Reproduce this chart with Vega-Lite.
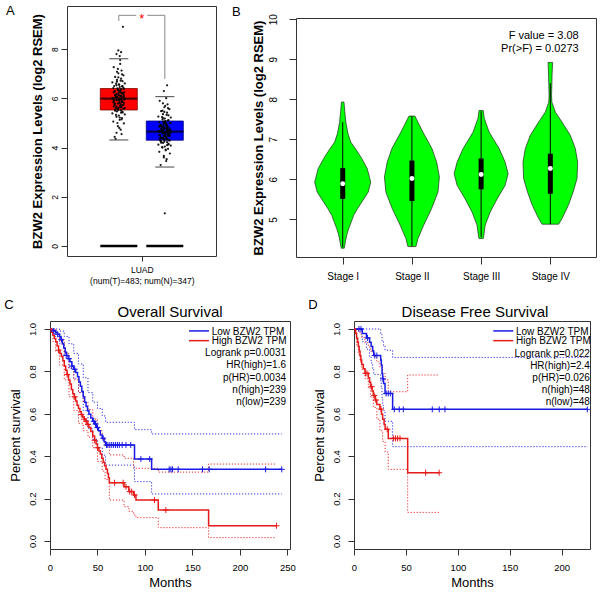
{
"$schema": "https://vega.github.io/schema/vega-lite/v6.json",
"padding": {"left": 2, "top": 4, "right": 0, "bottom": 0},
"background": "white",
"config": {
  "font": "Liberation Sans",
  "view": {"stroke": null},
  "axis": {"domain": false, "grid": false, "tickColor": "#333", "tickWidth": 1, "labelColor": "#000", "titleColor": "#000", "labelFlush": false, "labelOverlap": false, "labelBound": false, "titleFontWeight": "normal"}
},
"datasets": {
  "aBox": [
    {"g": "T", "x": 1, "q1": 5.53, "med": 5.99, "q3": 6.40},
    {"g": "N", "x": 2, "q1": 4.30, "med": 4.65, "q3": 5.08}
  ],
  "aCap": [
    {"x": 1, "v": 4.31}, {"x": 1, "v": 7.61}, {"x": 2, "v": 3.21}, {"x": 2, "v": 6.07}
  ],
  "aBr": [
    {"seg": "a", "o": 1, "x": 1, "v": 9.15}, {"seg": "a", "o": 2, "x": 1, "v": 9.378}, {"seg": "a", "o": 3, "x": 1.38, "v": 9.378},
    {"seg": "b", "o": 1, "x": 1.62, "v": 9.378}, {"seg": "b", "o": 2, "x": 2, "v": 9.378}, {"seg": "b", "o": 3, "x": 2, "v": 6.79}
  ],
  "aStar": [{"x": 1.5, "v": 9.08, "label": "*"}],
  "aLetter": [{"x": -1.452, "v": 9.541, "label": "A"}],
  "aPts": [
    {"x":0.91,"v":4.44},{"x":1.04,"v":4.73},{"x":0.98,"v":4.87},{"x":1.11,"v":4.98},{"x":0.88,"v":5.06},{"x":1.02,"v":5.13},{"x":1.07,"v":5.20},{"x":0.95,"v":5.25},{"x":1.00,"v":5.30},{"x":1.13,"v":5.35},
    {"x":0.86,"v":5.39},{"x":1.08,"v":5.43},{"x":0.96,"v":5.47},{"x":1.05,"v":5.51},{"x":0.92,"v":5.54},{"x":1.10,"v":5.58},{"x":0.99,"v":5.61},{"x":1.06,"v":5.64},{"x":0.89,"v":5.67},{"x":1.03,"v":5.70},
    {"x":0.91,"v":5.73},{"x":1.04,"v":5.76},{"x":0.98,"v":5.79},{"x":1.11,"v":5.82},{"x":0.88,"v":5.85},{"x":1.02,"v":5.88},{"x":1.07,"v":5.90},{"x":0.95,"v":5.93},{"x":1.00,"v":5.96},{"x":1.13,"v":5.99},
    {"x":0.86,"v":6.01},{"x":1.08,"v":6.04},{"x":0.96,"v":6.07},{"x":1.05,"v":6.10},{"x":0.92,"v":6.12},{"x":1.10,"v":6.15},{"x":0.99,"v":6.18},{"x":1.06,"v":6.21},{"x":0.89,"v":6.24},{"x":1.03,"v":6.27},
    {"x":0.91,"v":6.30},{"x":1.04,"v":6.33},{"x":0.98,"v":6.36},{"x":1.11,"v":6.39},{"x":0.88,"v":6.42},{"x":1.02,"v":6.46},{"x":1.07,"v":6.49},{"x":0.95,"v":6.53},{"x":1.00,"v":6.57},{"x":1.13,"v":6.61},
    {"x":0.86,"v":6.65},{"x":1.08,"v":6.70},{"x":0.96,"v":6.75},{"x":1.05,"v":6.80},{"x":0.92,"v":6.87},{"x":1.10,"v":6.94},{"x":0.99,"v":7.02},{"x":1.06,"v":7.13},{"x":0.89,"v":7.27},{"x":1.03,"v":7.56},
    {"x":0.94,"v":5.62},{"x":1.07,"v":5.72},{"x":1.01,"v":5.81},{"x":0.90,"v":5.90},{"x":1.12,"v":5.95},{"x":0.97,"v":6.03},{"x":1.04,"v":6.08},{"x":0.93,"v":6.14},{"x":1.09,"v":6.20},{"x":1.00,"v":6.26},
    {"x":0.95,"v":5.68},{"x":1.06,"v":5.84},{"x":0.88,"v":6.00},{"x":1.03,"v":6.11},{"x":0.98,"v":6.35},{"x":1.10,"v":6.44},{"x":0.92,"v":5.50},{"x":1.01,"v":6.55},{"x":0.96,"v":6.68},{"x":1.05,"v":5.42},
    {"x":1.02,"v":7.72},{"x":0.95,"v":7.80},{"x":1.05,"v":7.88},{"x":0.99,"v":7.95},{"x":0.93,"v":4.35},{"x":1.06,"v":4.55},{"x":1.09,"v":8.91},
    {"x":0.97,"v":5.57},{"x":1.03,"v":5.63},{"x":0.90,"v":5.77},{"x":1.08,"v":5.86},{"x":0.99,"v":5.92},{"x":1.05,"v":5.97},{"x":0.93,"v":6.05},{"x":1.11,"v":6.09},{"x":1.00,"v":6.13},{"x":0.95,"v":6.17},
    {"x":1.06,"v":6.23},{"x":0.91,"v":6.29},{"x":1.02,"v":6.32},{"x":0.97,"v":6.41},{"x":1.08,"v":6.50},{"x":0.94,"v":6.60},{"x":1.04,"v":6.72},{"x":0.99,"v":6.85},{"x":1.07,"v":6.98},{"x":0.96,"v":7.08},
    {"x":1.02,"v":5.22},{"x":0.94,"v":5.33},{"x":1.08,"v":5.45},{"x":0.99,"v":5.52},{"x":1.04,"v":5.66},{"x":0.92,"v":5.80},{"x":1.10,"v":5.74},{"x":1.01,"v":5.99},{"x":0.96,"v":6.06},{"x":1.05,"v":6.38},
    {"x":0.98,"v":7.20},{"x":1.03,"v":7.40},{"x":0.95,"v":4.60},{"x":1.01,"v":4.80},{"x":0.97,"v":5.00},{"x":1.06,"v":5.15},{"x":0.90,"v":6.50},{"x":1.12,"v":6.25},{"x":0.88,"v":5.95},{"x":1.13,"v":5.60},
    {"x":1.91,"v":3.29},{"x":2.04,"v":3.53},{"x":1.98,"v":3.66},{"x":2.11,"v":3.76},{"x":1.88,"v":3.83},{"x":2.02,"v":3.89},{"x":2.07,"v":3.95},{"x":1.95,"v":4.00},{"x":2.00,"v":4.04},{"x":2.13,"v":4.08},
    {"x":1.86,"v":4.12},{"x":2.08,"v":4.15},{"x":1.96,"v":4.19},{"x":2.05,"v":4.22},{"x":1.92,"v":4.25},{"x":2.10,"v":4.28},{"x":1.99,"v":4.31},{"x":2.06,"v":4.34},{"x":1.89,"v":4.36},{"x":2.03,"v":4.39},
    {"x":1.91,"v":4.42},{"x":2.04,"v":4.44},{"x":1.98,"v":4.47},{"x":2.11,"v":4.49},{"x":1.88,"v":4.52},{"x":2.02,"v":4.54},{"x":2.07,"v":4.57},{"x":1.95,"v":4.59},{"x":2.00,"v":4.61},{"x":2.13,"v":4.64},
    {"x":1.86,"v":4.66},{"x":2.08,"v":4.68},{"x":1.96,"v":4.71},{"x":2.05,"v":4.73},{"x":1.92,"v":4.76},{"x":2.10,"v":4.78},{"x":1.99,"v":4.81},{"x":2.06,"v":4.83},{"x":1.89,"v":4.86},{"x":2.03,"v":4.89},
    {"x":1.91,"v":4.91},{"x":2.04,"v":4.94},{"x":1.98,"v":4.97},{"x":2.11,"v":5.00},{"x":1.88,"v":5.03},{"x":2.02,"v":5.06},{"x":2.07,"v":5.10},{"x":1.95,"v":5.14},{"x":2.00,"v":5.18},{"x":2.13,"v":5.22},
    {"x":1.86,"v":5.26},{"x":2.08,"v":5.31},{"x":1.96,"v":5.36},{"x":2.05,"v":5.42},{"x":1.92,"v":5.48},{"x":2.10,"v":5.56},{"x":1.99,"v":5.64},{"x":2.06,"v":5.76},{"x":1.89,"v":5.90},{"x":2.03,"v":6.01},
    {"x":1.94,"v":4.40},{"x":2.07,"v":4.50},{"x":2.01,"v":4.58},{"x":1.90,"v":4.63},{"x":2.12,"v":4.70},{"x":1.97,"v":4.74},{"x":2.04,"v":4.80},{"x":1.93,"v":4.85},{"x":2.09,"v":4.55},{"x":2.00,"v":4.46},
    {"x":1.95,"v":4.35},{"x":2.06,"v":4.62},{"x":1.88,"v":4.68},{"x":2.03,"v":4.95},{"x":1.98,"v":5.02},{"x":2.10,"v":4.30},{"x":1.92,"v":4.20},{"x":2.01,"v":5.08},{"x":1.96,"v":5.20},{"x":2.05,"v":4.10},
    {"x":2.05,"v":6.53},{"x":1.98,"v":6.30},{"x":2.00,"v":1.33},
    {"x":1.97,"v":4.37},{"x":2.03,"v":4.43},{"x":1.90,"v":4.50},{"x":2.08,"v":4.56},{"x":1.99,"v":4.60},{"x":2.05,"v":4.65},{"x":1.93,"v":4.69},{"x":2.11,"v":4.72},{"x":2.00,"v":4.77},{"x":1.95,"v":4.82},
    {"x":2.06,"v":4.87},{"x":1.91,"v":4.92},{"x":2.02,"v":4.99},{"x":1.97,"v":5.05},{"x":2.08,"v":5.12},{"x":1.94,"v":5.24},{"x":2.04,"v":5.33},{"x":1.99,"v":5.45},{"x":2.07,"v":5.60},{"x":1.96,"v":5.80},
    {"x":2.02,"v":3.92},{"x":1.94,"v":4.02},{"x":2.08,"v":4.13},{"x":1.99,"v":4.24},{"x":2.04,"v":4.33},{"x":1.92,"v":4.41},{"x":2.10,"v":4.47},{"x":2.01,"v":4.53},{"x":1.96,"v":4.57},{"x":2.05,"v":4.66},
    {"x":1.98,"v":3.60},{"x":2.03,"v":3.45},{"x":1.95,"v":5.50},{"x":2.01,"v":5.70},{"x":1.97,"v":4.90},{"x":2.06,"v":4.75},{"x":1.90,"v":4.28},{"x":2.12,"v":4.60},{"x":1.88,"v":4.85},{"x":2.13,"v":5.00}
  ],
  "vio": [
    {"x":1,"v":7.93,"w":0.018},{"x":1,"v":7.7,"w":0.03},{"x":1,"v":7.43,"w":0.045},{"x":1,"v":7.15,"w":0.075},{"x":1,"v":6.93,"w":0.116},{"x":1,"v":6.75,"w":0.19},{"x":1,"v":6.52,"w":0.275},{"x":1,"v":6.27,"w":0.354},{"x":1,"v":5.93,"w":0.405},{"x":1,"v":5.68,"w":0.368},{"x":1,"v":5.43,"w":0.275},{"x":1,"v":5.27,"w":0.215},{"x":1,"v":5.10,"w":0.159},{"x":1,"v":4.77,"w":0.087},{"x":1,"v":4.62,"w":0.06},{"x":1,"v":4.48,"w":0.043},{"x":1,"v":4.28,"w":0.022},
    {"x":2,"v":7.58,"w":0.043},{"x":2,"v":7.4,"w":0.095},{"x":2,"v":7.18,"w":0.159},{"x":2,"v":6.77,"w":0.289},{"x":2,"v":6.43,"w":0.357},{"x":2,"v":6.06,"w":0.397},{"x":2,"v":5.68,"w":0.376},{"x":2,"v":5.27,"w":0.285},{"x":2,"v":4.85,"w":0.169},{"x":2,"v":4.52,"w":0.087},{"x":2,"v":4.32,"w":0.058},
    {"x":3,"v":7.72,"w":0.03},{"x":3,"v":7.52,"w":0.046},{"x":3,"v":7.18,"w":0.116},{"x":3,"v":6.77,"w":0.26},{"x":3,"v":6.43,"w":0.347},{"x":3,"v":6.14,"w":0.39},{"x":3,"v":5.85,"w":0.347},{"x":3,"v":5.51,"w":0.231},{"x":3,"v":5.18,"w":0.13},{"x":3,"v":4.85,"w":0.058},{"x":3,"v":4.56,"w":0.036},{"x":3,"v":4.52,"w":0.03},
    {"x":4,"v":8.92,"w":0.033},{"x":4,"v":8.6,"w":0.025},{"x":4,"v":8.35,"w":0.022},{"x":4,"v":8.1,"w":0.018},{"x":4,"v":7.93,"w":0.022},{"x":4,"v":7.68,"w":0.072},{"x":4,"v":7.43,"w":0.169},{"x":4,"v":7.10,"w":0.289},{"x":4,"v":6.77,"w":0.361},{"x":4,"v":6.43,"w":0.395},{"x":4,"v":6.02,"w":0.386},{"x":4,"v":5.68,"w":0.329},{"x":4,"v":5.35,"w":0.26},{"x":4,"v":5.02,"w":0.169},{"x":4,"v":4.88,"w":0.12}
  ],
  "vBox": [
    {"x":1,"lw":4.30,"q1":5.51,"med":5.89,"q3":6.28,"uw":7.43},
    {"x":2,"lw":4.32,"q1":5.46,"med":6.02,"q3":6.47,"uw":7.58},
    {"x":3,"lw":4.55,"q1":5.75,"med":6.12,"q3":6.52,"uw":7.70},
    {"x":4,"lw":4.88,"q1":5.64,"med":6.27,"q3":6.64,"uw":8.40}
  ],
  "bText": [{"x":4.41,"v":9.58,"label":"F value = 3.08"},{"x":4.41,"v":9.26,"label":"Pr(>F) = 0.0273"}],
  "bLetter": [{"x":-0.600,"v":10.168,"label":"B"}],
  "cCurve": [
    {"g":"low","k":"S","t":0,"s":1},{"g":"low","k":"S","t":2,"s":0.995},{"g":"low","k":"S","t":4,"s":0.99},{"g":"low","k":"S","t":6,"s":0.982},{"g":"low","k":"S","t":8,"s":0.975},{"g":"low","k":"S","t":10,"s":0.965},{"g":"low","k":"S","t":11.5,"s":0.95},{"g":"low","k":"S","t":13,"s":0.93},{"g":"low","k":"S","t":14.5,"s":0.91},{"g":"low","k":"S","t":16,"s":0.89},
    {"g":"low","k":"S","t":17.5,"s":0.875},{"g":"low","k":"S","t":19,"s":0.86},{"g":"low","k":"S","t":21,"s":0.845},{"g":"low","k":"S","t":23,"s":0.825},{"g":"low","k":"S","t":25,"s":0.81},{"g":"low","k":"S","t":27,"s":0.795},{"g":"low","k":"S","t":29,"s":0.775},{"g":"low","k":"S","t":30.5,"s":0.75},{"g":"low","k":"S","t":32,"s":0.73},{"g":"low","k":"S","t":33.5,"s":0.705},
    {"g":"low","k":"S","t":35,"s":0.68},{"g":"low","k":"S","t":36.5,"s":0.655},{"g":"low","k":"S","t":38,"s":0.635},{"g":"low","k":"S","t":39.5,"s":0.615},{"g":"low","k":"S","t":41,"s":0.598},{"g":"low","k":"S","t":43,"s":0.58},{"g":"low","k":"S","t":45,"s":0.565},{"g":"low","k":"S","t":47,"s":0.552},{"g":"low","k":"S","t":49,"s":0.535},{"g":"low","k":"S","t":51,"s":0.52},
    {"g":"low","k":"S","t":53,"s":0.5},{"g":"low","k":"S","t":55,"s":0.485},{"g":"low","k":"S","t":57,"s":0.468},{"g":"low","k":"S","t":58.5,"s":0.453},{"g":"low","k":"S","t":89,"s":0.387},{"g":"low","k":"S","t":107,"s":0.338},{"g":"low","k":"S","t":244,"s":0.338},
    {"g":"low","k":"U","t":0,"s":1},{"g":"low","k":"U","t":5,"s":1},{"g":"low","k":"U","t":10,"s":0.99},{"g":"low","k":"U","t":15,"s":0.965},{"g":"low","k":"U","t":20,"s":0.93},{"g":"low","k":"U","t":25,"s":0.885},{"g":"low","k":"U","t":30,"s":0.835},{"g":"low","k":"U","t":35,"s":0.77},{"g":"low","k":"U","t":40,"s":0.7},{"g":"low","k":"U","t":45,"s":0.655},{"g":"low","k":"U","t":50,"s":0.625},{"g":"low","k":"U","t":55,"s":0.59},{"g":"low","k":"U","t":58.5,"s":0.56},{"g":"low","k":"U","t":89,"s":0.525},{"g":"low","k":"U","t":107,"s":0.505},{"g":"low","k":"U","t":244,"s":0.505},
    {"g":"low","k":"L","t":0,"s":1},{"g":"low","k":"L","t":5,"s":0.965},{"g":"low","k":"L","t":10,"s":0.93},{"g":"low","k":"L","t":15,"s":0.875},{"g":"low","k":"L","t":20,"s":0.815},{"g":"low","k":"L","t":25,"s":0.765},{"g":"low","k":"L","t":30,"s":0.7},{"g":"low","k":"L","t":35,"s":0.615},{"g":"low","k":"L","t":40,"s":0.53},{"g":"low","k":"L","t":45,"s":0.48},{"g":"low","k":"L","t":50,"s":0.44},{"g":"low","k":"L","t":55,"s":0.405},{"g":"low","k":"L","t":58.5,"s":0.358},{"g":"low","k":"L","t":89,"s":0.28},{"g":"low","k":"L","t":107,"s":0.222},{"g":"low","k":"L","t":244,"s":0.222},
    {"g":"high","k":"S","t":0,"s":1},{"g":"high","k":"S","t":1.5,"s":0.985},{"g":"high","k":"S","t":3,"s":0.97},{"g":"high","k":"S","t":4.5,"s":0.955},{"g":"high","k":"S","t":6,"s":0.94},{"g":"high","k":"S","t":7.5,"s":0.92},{"g":"high","k":"S","t":9,"s":0.9},{"g":"high","k":"S","t":10.5,"s":0.885},{"g":"high","k":"S","t":12,"s":0.87},{"g":"high","k":"S","t":13.5,"s":0.85},
    {"g":"high","k":"S","t":15,"s":0.825},{"g":"high","k":"S","t":16.5,"s":0.805},{"g":"high","k":"S","t":18,"s":0.785},{"g":"high","k":"S","t":19.5,"s":0.76},{"g":"high","k":"S","t":21,"s":0.74},{"g":"high","k":"S","t":22.5,"s":0.715},{"g":"high","k":"S","t":24,"s":0.695},{"g":"high","k":"S","t":25.5,"s":0.68},{"g":"high","k":"S","t":27,"s":0.66},{"g":"high","k":"S","t":28.5,"s":0.64},
    {"g":"high","k":"S","t":30,"s":0.625},{"g":"high","k":"S","t":31.5,"s":0.61},{"g":"high","k":"S","t":33,"s":0.597},{"g":"high","k":"S","t":34.5,"s":0.585},{"g":"high","k":"S","t":36,"s":0.575},{"g":"high","k":"S","t":37.5,"s":0.565},{"g":"high","k":"S","t":39,"s":0.55},{"g":"high","k":"S","t":41,"s":0.535},{"g":"high","k":"S","t":43,"s":0.516},{"g":"high","k":"S","t":45,"s":0.495},
    {"g":"high","k":"S","t":47,"s":0.475},{"g":"high","k":"S","t":48.5,"s":0.458},{"g":"high","k":"S","t":50,"s":0.44},{"g":"high","k":"S","t":51.5,"s":0.425},{"g":"high","k":"S","t":53,"s":0.41},{"g":"high","k":"S","t":54.5,"s":0.39},{"g":"high","k":"S","t":56,"s":0.372},{"g":"high","k":"S","t":57.5,"s":0.355},{"g":"high","k":"S","t":59,"s":0.338},{"g":"high","k":"S","t":60.5,"s":0.318},
    {"g":"high","k":"S","t":61.5,"s":0.298},{"g":"high","k":"S","t":62.5,"s":0.275},{"g":"high","k":"S","t":78,"s":0.256},{"g":"high","k":"S","t":83,"s":0.233},{"g":"high","k":"S","t":88,"s":0.217},{"g":"high","k":"S","t":90.5,"s":0.193},{"g":"high","k":"S","t":114,"s":0.146},{"g":"high","k":"S","t":167,"s":0.072},{"g":"high","k":"S","t":238.5,"s":0.072},
    {"g":"high","k":"U","t":0,"s":1},{"g":"high","k":"U","t":3,"s":1},{"g":"high","k":"U","t":6,"s":0.975},{"g":"high","k":"U","t":10,"s":0.945},{"g":"high","k":"U","t":15,"s":0.885},{"g":"high","k":"U","t":20,"s":0.815},{"g":"high","k":"U","t":25,"s":0.76},{"g":"high","k":"U","t":30,"s":0.7},{"g":"high","k":"U","t":35,"s":0.655},{"g":"high","k":"U","t":40,"s":0.62},{"g":"high","k":"U","t":45,"s":0.575},{"g":"high","k":"U","t":50,"s":0.52},{"g":"high","k":"U","t":55,"s":0.48},{"g":"high","k":"U","t":58,"s":0.445},{"g":"high","k":"U","t":62.5,"s":0.406},{"g":"high","k":"U","t":78,"s":0.39},{"g":"high","k":"U","t":88,"s":0.343},{"g":"high","k":"U","t":114,"s":0.325},{"g":"high","k":"U","t":167,"s":0.363},{"g":"high","k":"U","t":238.5,"s":0.363},
    {"g":"high","k":"L","t":0,"s":1},{"g":"high","k":"L","t":3,"s":0.94},{"g":"high","k":"L","t":6,"s":0.895},{"g":"high","k":"L","t":10,"s":0.83},{"g":"high","k":"L","t":15,"s":0.76},{"g":"high","k":"L","t":20,"s":0.68},{"g":"high","k":"L","t":25,"s":0.615},{"g":"high","k":"L","t":30,"s":0.555},{"g":"high","k":"L","t":35,"s":0.52},{"g":"high","k":"L","t":40,"s":0.49},{"g":"high","k":"L","t":45,"s":0.44},{"g":"high","k":"L","t":50,"s":0.375},{"g":"high","k":"L","t":55,"s":0.33},{"g":"high","k":"L","t":58,"s":0.29},{"g":"high","k":"L","t":62.5,"s":0.193},{"g":"high","k":"L","t":78,"s":0.162},{"g":"high","k":"L","t":83,"s":0.14},{"g":"high","k":"L","t":88,"s":0.123},{"g":"high","k":"L","t":90.5,"s":0.11},{"g":"high","k":"L","t":114,"s":0.063},{"g":"high","k":"L","t":167,"s":0.016},{"g":"high","k":"L","t":238.5,"s":0.016}
  ],
  "cCens": [
    {"g":"low","t":4,"s":0.99},{"g":"low","t":8,"s":0.975},{"g":"low","t":12,"s":0.95},{"g":"low","t":17,"s":0.875},{"g":"low","t":20,"s":0.86},{"g":"low","t":23,"s":0.825},{"g":"low","t":26,"s":0.81},{"g":"low","t":46,"s":0.565},{"g":"low","t":48,"s":0.552},{"g":"low","t":50,"s":0.535},{"g":"low","t":56,"s":0.485},
    {"g":"low","t":59.5,"s":0.453},{"g":"low","t":61,"s":0.453},{"g":"low","t":63,"s":0.453},{"g":"low","t":65,"s":0.453},{"g":"low","t":67,"s":0.453},{"g":"low","t":69,"s":0.453},{"g":"low","t":71,"s":0.453},{"g":"low","t":73,"s":0.453},{"g":"low","t":76,"s":0.453},{"g":"low","t":80,"s":0.453},{"g":"low","t":85,"s":0.453},
    {"g":"low","t":95.7,"s":0.387},{"g":"low","t":105,"s":0.387},{"g":"low","t":125.5,"s":0.338},{"g":"low","t":127.3,"s":0.338},{"g":"low","t":129,"s":0.338},{"g":"low","t":135,"s":0.338},{"g":"low","t":160.6,"s":0.338},{"g":"low","t":167.6,"s":0.338},{"g":"low","t":227,"s":0.338},{"g":"low","t":244,"s":0.338},
    {"g":"high","t":9,"s":0.9},{"g":"high","t":18,"s":0.785},{"g":"high","t":26,"s":0.68},{"g":"high","t":33,"s":0.597},{"g":"high","t":36,"s":0.575},{"g":"high","t":38,"s":0.565},{"g":"high","t":40,"s":0.55},{"g":"high","t":47,"s":0.475},{"g":"high","t":50,"s":0.44},{"g":"high","t":68,"s":0.275},{"g":"high","t":77,"s":0.275},{"g":"high","t":80,"s":0.256},{"g":"high","t":84,"s":0.233},{"g":"high","t":86,"s":0.233},{"g":"high","t":89,"s":0.217},{"g":"high","t":110,"s":0.193},{"g":"high","t":122,"s":0.146},{"g":"high","t":238.5,"s":0.072}
  ],
  "cLegLine": [{"g":"low","t0":146.4,"t1":167.4,"s":0.991},{"g":"high","t0":146.4,"t1":167.4,"s":0.945}],
  "cLegL": [{"t":170.3,"s":0.988,"label":"Low BZW2 TPM"},{"t":170.3,"s":0.942,"label":"High BZW2 TPM"}],
  "cLegR": [{"t":248.5,"s":0.885,"label":"Logrank p=0.0031"},{"t":248.5,"s":0.830,"label":"HR(high)=1.6"},{"t":248.5,"s":0.771,"label":"p(HR)=0.0034"},{"t":248.5,"s":0.714,"label":"n(high)=239"},{"t":248.5,"s":0.657,"label":"n(low)=239"}],
  "cTitle": [{"t":126.4,"s":1.082,"label":"Overall Survival"}],
  "cLetter": [{"t":-48.12,"s":1.113,"label":"C"}],
  "dCurve": [
    {"g":"low","k":"S","t":0,"s":1},{"g":"low","k":"S","t":8,"s":0.979},{"g":"low","k":"S","t":12,"s":0.958},{"g":"low","k":"S","t":15,"s":0.938},{"g":"low","k":"S","t":16.5,"s":0.917},{"g":"low","k":"S","t":18,"s":0.896},{"g":"low","k":"S","t":19,"s":0.875},{"g":"low","k":"S","t":25.7,"s":0.854},{"g":"low","k":"S","t":26.3,"s":0.83},{"g":"low","k":"S","t":27,"s":0.79},{"g":"low","k":"S","t":27.6,"s":0.765},{"g":"low","k":"S","t":28.5,"s":0.743},{"g":"low","k":"S","t":29.9,"s":0.696},{"g":"low","k":"S","t":37.2,"s":0.621},{"g":"low","k":"S","t":225,"s":0.621},
    {"g":"low","k":"U","t":0,"s":1},{"g":"low","k":"U","t":19,"s":1},{"g":"low","k":"U","t":25.7,"s":0.975},{"g":"low","k":"U","t":27,"s":0.945},{"g":"low","k":"U","t":28.5,"s":0.92},{"g":"low","k":"U","t":29.9,"s":0.9},{"g":"low","k":"U","t":37.2,"s":0.866},{"g":"low","k":"U","t":225,"s":0.866},
    {"g":"low","k":"L","t":0,"s":1},{"g":"low","k":"L","t":8,"s":0.94},{"g":"low","k":"L","t":12,"s":0.905},{"g":"low","k":"L","t":15,"s":0.87},{"g":"low","k":"L","t":16.5,"s":0.84},{"g":"low","k":"L","t":18,"s":0.81},{"g":"low","k":"L","t":19,"s":0.785},{"g":"low","k":"L","t":25.7,"s":0.755},{"g":"low","k":"L","t":26.3,"s":0.72},{"g":"low","k":"L","t":27,"s":0.67},{"g":"low","k":"L","t":27.6,"s":0.64},{"g":"low","k":"L","t":28.5,"s":0.615},{"g":"low","k":"L","t":29.9,"s":0.565},{"g":"low","k":"L","t":37.2,"s":0.445},{"g":"low","k":"L","t":225,"s":0.445},
    {"g":"high","k":"S","t":0,"s":1},{"g":"high","k":"S","t":1.5,"s":0.979},{"g":"high","k":"S","t":2.5,"s":0.958},{"g":"high","k":"S","t":3.5,"s":0.938},{"g":"high","k":"S","t":4.2,"s":0.917},{"g":"high","k":"S","t":5,"s":0.896},{"g":"high","k":"S","t":5.8,"s":0.875},{"g":"high","k":"S","t":6.6,"s":0.854},{"g":"high","k":"S","t":7.4,"s":0.833},{"g":"high","k":"S","t":9,"s":0.812},{"g":"high","k":"S","t":10.6,"s":0.791},{"g":"high","k":"S","t":13.8,"s":0.77},{"g":"high","k":"S","t":15,"s":0.749},
    {"g":"high","k":"S","t":16,"s":0.728},{"g":"high","k":"S","t":17.5,"s":0.707},{"g":"high","k":"S","t":18.6,"s":0.686},{"g":"high","k":"S","t":20.5,"s":0.665},{"g":"high","k":"S","t":22,"s":0.644},{"g":"high","k":"S","t":25,"s":0.622},{"g":"high","k":"S","t":26.5,"s":0.598},{"g":"high","k":"S","t":27.6,"s":0.574},{"g":"high","k":"S","t":29,"s":0.55},{"g":"high","k":"S","t":30,"s":0.527},{"g":"high","k":"S","t":33,"s":0.484},{"g":"high","k":"S","t":51.7,"s":0.322},{"g":"high","k":"S","t":82,"s":0.322},
    {"g":"high","k":"U","t":0,"s":1},{"g":"high","k":"U","t":2.5,"s":1},{"g":"high","k":"U","t":4.2,"s":0.99},{"g":"high","k":"U","t":5.8,"s":0.975},{"g":"high","k":"U","t":7.4,"s":0.96},{"g":"high","k":"U","t":10.6,"s":0.935},{"g":"high","k":"U","t":13.8,"s":0.915},{"g":"high","k":"U","t":16,"s":0.895},{"g":"high","k":"U","t":18.6,"s":0.87},{"g":"high","k":"U","t":22,"s":0.845},{"g":"high","k":"U","t":25,"s":0.82},{"g":"high","k":"U","t":27.6,"s":0.79},{"g":"high","k":"U","t":30,"s":0.76},{"g":"high","k":"U","t":33,"s":0.704},{"g":"high","k":"U","t":51.7,"s":0.783},{"g":"high","k":"U","t":82,"s":0.783},
    {"g":"high","k":"L","t":0,"s":1},{"g":"high","k":"L","t":2.5,"s":0.925},{"g":"high","k":"L","t":4.2,"s":0.88},{"g":"high","k":"L","t":5.8,"s":0.845},{"g":"high","k":"L","t":7.4,"s":0.81},{"g":"high","k":"L","t":10.6,"s":0.765},{"g":"high","k":"L","t":13.8,"s":0.72},{"g":"high","k":"L","t":16,"s":0.68},{"g":"high","k":"L","t":18.6,"s":0.63},{"g":"high","k":"L","t":22,"s":0.575},{"g":"high","k":"L","t":25,"s":0.52},{"g":"high","k":"L","t":27.6,"s":0.47},{"g":"high","k":"L","t":30,"s":0.42},{"g":"high","k":"L","t":33,"s":0.338},{"g":"high","k":"L","t":51.7,"s":0.135},{"g":"high","k":"L","t":82,"s":0.135}
  ],
  "dCens": [
    {"g":"low","t":4.8,"s":1},{"g":"low","t":6.7,"s":1},{"g":"low","t":13,"s":0.958},{"g":"low","t":20,"s":0.875},{"g":"low","t":22,"s":0.875},{"g":"low","t":27.9,"s":0.765},{"g":"low","t":31,"s":0.696},{"g":"low","t":33,"s":0.696},{"g":"low","t":35,"s":0.696},{"g":"low","t":38.8,"s":0.621},{"g":"low","t":43.6,"s":0.621},{"g":"low","t":47.5,"s":0.621},{"g":"low","t":75.4,"s":0.621},{"g":"low","t":82.1,"s":0.621},{"g":"low","t":87.6,"s":0.621},{"g":"low","t":224.7,"s":0.621},
    {"g":"high","t":11,"s":0.791},{"g":"high","t":12.5,"s":0.791},{"g":"high","t":17,"s":0.728},{"g":"high","t":19.5,"s":0.686},{"g":"high","t":21,"s":0.665},{"g":"high","t":26,"s":0.622},{"g":"high","t":32,"s":0.527},{"g":"high","t":38,"s":0.484},{"g":"high","t":40,"s":0.484},{"g":"high","t":42,"s":0.484},{"g":"high","t":44.3,"s":0.484},{"g":"high","t":69,"s":0.322},{"g":"high","t":82,"s":0.322}
  ],
  "dLegLine": [{"g":"low","t0":134.1,"t1":153.4,"s":0.991},{"g":"high","t0":134.1,"t1":153.4,"s":0.945}],
  "dLegL": [{"t":156,"s":0.988,"label":"Low BZW2 TPM"},{"t":156,"s":0.942,"label":"High BZW2 TPM"}],
  "dLegR": [{"t":227.2,"s":0.882,"label":"Logrank p=0.022"},{"t":227.2,"s":0.827,"label":"HR(high)=2.4"},{"t":227.2,"s":0.769,"label":"p(HR)=0.026"},{"t":227.2,"s":0.714,"label":"n(high)=48"},{"t":227.2,"s":0.657,"label":"n(low)=48"}],
  "dTitle": [{"t":116.5,"s":1.082,"label":"Disease Free Survival"}],
  "dLetter": [{"t":-44.0,"s":1.113,"label":"D"}]
},
"spacing": 13,
"vconcat": [
 {"spacing": 14, "hconcat": [
   {"spacing": 2, "hconcat": [
     {"width": 1, "height": 1, "data": {"values": []}, "mark": "point"},
     {"width": 149, "height": 250, "view": {"stroke": "#333", "strokeWidth": 1},
      "layer": [
       {"data": {"name": "aBox"},
        "transform": [{"filter": "datum.g == 'T'"}],
        "mark": {"type": "bar", "size": 37, "strokeWidth": 0.8, "fill": "#ff0000", "stroke": "#7a0000"},
        "encoding": {
          "x": {"field": "x", "type": "quantitative", "scale": {"domain": [-0.126, 3.113], "nice": false, "zero": false, "padding": 0},
                "axis": {"values": [1.5], "labelExpr": "['LUAD', '(num(T)=483; num(N)=347)']", "labelFontSize": 8.5, "labelLineHeight": 11, "labelBaseline": "top", "labelAlign": "center", "tickSize": 5, "labelPadding": 4, "title": null}},
          "y": {"field": "q1", "type": "quantitative", "scale": {"domain": [-0.407, 9.756], "nice": false, "zero": false, "padding": 0},
                "axis": {"values": [0, 2, 4, 6, 8], "labelAngle": -90, "labelAlign": "center", "labelBaseline": "bottom", "labelFontSize": 8.5, "tickSize": 6, "labelPadding": 2, "title": "BZW2 Expression Levels (log2 RSEM)", "titleFontSize": 13, "titleFontWeight": "bold", "titlePadding": 6}},
          "y2": {"field": "q3"}
        }},
       {"data": {"name": "aBox"},
        "transform": [{"filter": "datum.g == 'N'"}],
        "mark": {"type": "bar", "size": 37, "strokeWidth": 0.8, "fill": "#0000ff", "stroke": "#00007a"},
        "encoding": {
          "x": {"field": "x", "type": "quantitative"},
          "y": {"field": "q1", "type": "quantitative"},
          "y2": {"field": "q3"}
        }},
       {"data": {"name": "aBox"},
        "transform": [{"filter": "datum.g == 'T'"}],
        "mark": {"type": "tick", "orient": "horizontal", "size": 37, "thickness": 2.2, "color": "#4a0000", "opacity": 1},
        "encoding": {
          "x": {"field": "x", "type": "quantitative"},
          "y": {"field": "med", "type": "quantitative"}
        }},
       {"data": {"name": "aBox"},
        "transform": [{"filter": "datum.g == 'N'"}],
        "mark": {"type": "tick", "orient": "horizontal", "size": 37, "thickness": 2.2, "color": "#00004a", "opacity": 1},
        "encoding": {
          "x": {"field": "x", "type": "quantitative"},
          "y": {"field": "med", "type": "quantitative"}
        }},
       {"data": {"name": "aBox"},
        "mark": {"type": "tick", "orient": "horizontal", "size": 37, "thickness": 2.5, "color": "#000", "opacity": 1},
        "encoding": {
          "x": {"field": "x", "type": "quantitative"},
          "y": {"datum": 0, "type": "quantitative"}
        }},
       {"data": {"name": "aPts"},
        "mark": {"type": "point", "filled": true, "size": 5, "color": "#000", "opacity": 0.9, "strokeWidth": 0},
        "encoding": {
          "x": {"field": "x", "type": "quantitative"},
          "y": {"field": "v", "type": "quantitative"}
        }},
       {"data": {"name": "aCap"},
        "mark": {"type": "tick", "orient": "horizontal", "size": 19, "thickness": 1, "color": "#444", "opacity": 1},
        "encoding": {
          "x": {"field": "x", "type": "quantitative"},
          "y": {"field": "v", "type": "quantitative"}
        }},
       {"data": {"name": "aBr"},
        "mark": {"type": "line", "color": "#888", "strokeWidth": 1},
        "encoding": {
          "x": {"field": "x", "type": "quantitative"},
          "y": {"field": "v", "type": "quantitative"},
          "detail": {"field": "seg"},
          "order": {"field": "o", "type": "quantitative"}
        }},
       {"data": {"name": "aStar"},
        "mark": {"type": "text", "color": "#ff0000", "fontSize": 13, "align": "center", "baseline": "alphabetic"},
        "encoding": {
          "x": {"field": "x", "type": "quantitative"},
          "y": {"field": "v", "type": "quantitative"},
          "text": {"field": "label"}
        }},
       {"data": {"name": "aLetter"},
        "mark": {"type": "text", "color": "#000", "fontSize": 13, "align": "left", "baseline": "middle"},
        "encoding": {
          "x": {"field": "x", "type": "quantitative"},
          "y": {"field": "v", "type": "quantitative"},
          "text": {"field": "label"}
        }}
      ]}
   ]},
   {"spacing": -2, "vconcat": [
     {"width": 1, "height": 1, "data": {"values": []}, "mark": "point"},
     {"width": 300, "height": 239, "view": {"stroke": "#333", "strokeWidth": 1},
      "layer": [
       {"data": {"name": "vio"},
        "transform": [{"calculate": "datum.x - datum.w", "as": "lo"}, {"calculate": "datum.x + datum.w", "as": "hi"}],
        "mark": {"type": "area", "orient": "horizontal", "fill": "#00ff00", "stroke": "#1e2e1e", "strokeWidth": 0.7, "opacity": 1, "fillOpacity": 1},
        "encoding": {
          "y": {"field": "v", "type": "quantitative", "scale": {"domain": [4.06, 10.03], "nice": false, "zero": false},
                "axis": {"values": [5, 6, 7, 8, 9, 10], "labelAngle": -90, "labelAlign": "center", "labelBaseline": "bottom", "labelFontSize": 10, "tickSize": 7, "labelPadding": 11, "title": "BZW2 Expression Levels (log2 RSEM)", "titleFontSize": 13, "titleFontWeight": "bold", "titlePadding": 3}},
          "x": {"field": "lo", "type": "quantitative", "scale": {"domain": [0.325, 4.66], "nice": false, "zero": false, "padding": 0},
                "axis": {"values": [1, 2, 3, 4], "labelExpr": "['', 'Stage I', 'Stage II', 'Stage III', 'Stage IV'][datum.value]", "labelFontSize": 10, "labelBaseline": "top", "labelAlign": "center", "tickSize": 7, "labelPadding": 7, "title": null}},
          "x2": {"field": "hi"},
          "detail": {"field": "x", "type": "nominal"}
        }},
       {"data": {"name": "vBox"},
        "mark": {"type": "rule", "color": "#000", "strokeWidth": 1},
        "encoding": {
          "x": {"field": "x", "type": "quantitative"},
          "y": {"field": "lw", "type": "quantitative"},
          "y2": {"field": "uw"}
        }},
       {"data": {"name": "vBox"},
        "mark": {"type": "rule", "color": "#000", "strokeWidth": 5, "strokeCap": "butt"},
        "encoding": {
          "x": {"field": "x", "type": "quantitative"},
          "y": {"field": "q1", "type": "quantitative"},
          "y2": {"field": "q3"}
        }},
       {"data": {"name": "vBox"},
        "mark": {"type": "point", "filled": true, "color": "#ffffff", "size": 24, "opacity": 1},
        "encoding": {
          "x": {"field": "x", "type": "quantitative"},
          "y": {"field": "med", "type": "quantitative"}
        }},
       {"data": {"name": "bText"},
        "mark": {"type": "text", "color": "#000", "fontSize": 11, "align": "right", "baseline": "middle"},
        "encoding": {
          "x": {"field": "x", "type": "quantitative"},
          "y": {"field": "v", "type": "quantitative"},
          "text": {"field": "label"}
        }},
       {"data": {"name": "bLetter"},
        "mark": {"type": "text", "color": "#000", "fontSize": 13, "align": "left", "baseline": "middle"},
        "encoding": {
          "x": {"field": "x", "type": "quantitative"},
          "y": {"field": "v", "type": "quantitative"},
          "text": {"field": "label"}
        }}
      ]}
   ]}
 ]},
 {"spacing": 11, "hconcat": [
   {"spacing": 0, "hconcat": [
     {"width": 1, "height": 1, "data": {"values": []}, "mark": "point"},
     {"width": 240, "height": 228, "view": {"stroke": "#333", "strokeWidth": 1},
      "layer": [
       {"data": {"name": "cCurve"},
        "transform": [{"filter": "datum.k != 'S'"}],
        "mark": {"type": "line", "interpolate": "step-after", "strokeDash": [1.2, 1.8], "strokeWidth": 1, "opacity": 0.9},
        "encoding": {
          "x": {"field": "t", "type": "quantitative", "scale": {"domain": [0, 252.7], "nice": false, "zero": false},
                "axis": {"values": [0, 50, 100, 150, 200, 250], "labelFontSize": 9.5, "labelAlign": "center", "labelBaseline": "top", "tickSize": 6, "labelPadding": 7, "title": "Months", "titleFontSize": 13, "titlePadding": 5}},
          "y": {"field": "s", "type": "quantitative", "scale": {"domain": [-0.0377, 1.0377], "nice": false, "zero": false},
                "axis": {"values": [0, 0.2, 0.4, 0.6, 0.8, 1], "format": ".1f", "labelAngle": -90, "labelAlign": "center", "labelBaseline": "bottom", "labelFontSize": 9.5, "tickSize": 6, "labelPadding": 6.5, "title": "Percent survival", "titleFontSize": 13, "titlePadding": 5}},
          "color": {"field": "g", "type": "nominal", "scale": {"domain": ["low", "high"], "range": ["#1a1ae6", "#e61a1a"]}, "legend": null},
          "detail": {"field": "k"}
        }},
       {"data": {"name": "cCurve"},
        "transform": [{"filter": "datum.k == 'S'"}],
        "mark": {"type": "line", "interpolate": "step-after", "strokeWidth": 1.5},
        "encoding": {
          "x": {"field": "t", "type": "quantitative"},
          "y": {"field": "s", "type": "quantitative"},
          "color": {"field": "g", "type": "nominal", "legend": null},
          "detail": {"field": "k"}
        }},
       {"data": {"name": "cCens"},
        "mark": {"type": "point", "shape": "M0,-1V1M-1,0H1", "size": 36, "filled": false, "strokeWidth": 1, "opacity": 1},
        "encoding": {
          "x": {"field": "t", "type": "quantitative"},
          "y": {"field": "s", "type": "quantitative"},
          "color": {"field": "g", "type": "nominal", "legend": null}
        }},
       {"data": {"name": "cLegLine"},
        "mark": {"type": "rule", "strokeWidth": 1.5},
        "encoding": {
          "x": {"field": "t0", "type": "quantitative"},
          "x2": {"field": "t1"},
          "y": {"field": "s", "type": "quantitative"},
          "color": {"field": "g", "type": "nominal", "legend": null}
        }},
       {"data": {"name": "cLegL"},
        "mark": {"type": "text", "color": "#000", "fontSize": 10, "align": "left", "baseline": "middle"},
        "encoding": {
          "x": {"field": "t", "type": "quantitative"},
          "y": {"field": "s", "type": "quantitative"},
          "text": {"field": "label"}
        }},
       {"data": {"name": "cLegR"},
        "mark": {"type": "text", "color": "#000", "fontSize": 10, "align": "right", "baseline": "middle"},
        "encoding": {
          "x": {"field": "t", "type": "quantitative"},
          "y": {"field": "s", "type": "quantitative"},
          "text": {"field": "label"}
        }},
       {"data": {"name": "cTitle"},
        "mark": {"type": "text", "color": "#000", "fontSize": 15, "align": "center", "baseline": "middle"},
        "encoding": {
          "x": {"field": "t", "type": "quantitative"},
          "y": {"field": "s", "type": "quantitative"},
          "text": {"field": "label"}
        }},
       {"data": {"name": "cLetter"},
        "mark": {"type": "text", "color": "#000", "fontSize": 13, "align": "left", "baseline": "middle"},
        "encoding": {
          "x": {"field": "t", "type": "quantitative"},
          "y": {"field": "s", "type": "quantitative"},
          "text": {"field": "label"}
        }}
      ]}
   ]},
   {"width": 236, "height": 228, "view": {"stroke": "#333", "strokeWidth": 1},
    "layer": [
     {"data": {"name": "dCurve"},
      "transform": [{"filter": "datum.k != 'S'"}],
      "mark": {"type": "line", "interpolate": "step-after", "strokeDash": [1.2, 1.8], "strokeWidth": 1, "opacity": 0.9},
      "encoding": {
        "x": {"field": "t", "type": "quantitative", "scale": {"domain": [0, 227.3], "nice": false, "zero": false},
              "axis": {"values": [0, 50, 100, 150, 200], "labelFontSize": 9.5, "labelAlign": "center", "labelBaseline": "top", "tickSize": 6, "labelPadding": 7, "title": "Months", "titleFontSize": 13, "titlePadding": 5}},
        "y": {"field": "s", "type": "quantitative", "scale": {"domain": [-0.0377, 1.0377], "nice": false, "zero": false},
              "axis": {"values": [0, 0.2, 0.4, 0.6, 0.8, 1], "format": ".1f", "labelAngle": -90, "labelAlign": "center", "labelBaseline": "bottom", "labelFontSize": 9.5, "tickSize": 6, "labelPadding": 6.5, "title": "Percent survival", "titleFontSize": 13, "titlePadding": 5}},
        "color": {"field": "g", "type": "nominal", "scale": {"domain": ["low", "high"], "range": ["#1a1ae6", "#e61a1a"]}, "legend": null},
        "detail": {"field": "k"}
      }},
     {"data": {"name": "dCurve"},
      "transform": [{"filter": "datum.k == 'S'"}],
      "mark": {"type": "line", "interpolate": "step-after", "strokeWidth": 1.5},
      "encoding": {
        "x": {"field": "t", "type": "quantitative"},
        "y": {"field": "s", "type": "quantitative"},
        "color": {"field": "g", "type": "nominal", "legend": null},
        "detail": {"field": "k"}
      }},
     {"data": {"name": "dCens"},
      "mark": {"type": "point", "shape": "M0,-1V1M-1,0H1", "size": 36, "filled": false, "strokeWidth": 1, "opacity": 1},
      "encoding": {
        "x": {"field": "t", "type": "quantitative"},
        "y": {"field": "s", "type": "quantitative"},
        "color": {"field": "g", "type": "nominal", "legend": null}
      }},
     {"data": {"name": "dLegLine"},
      "mark": {"type": "rule", "strokeWidth": 1.5},
      "encoding": {
        "x": {"field": "t0", "type": "quantitative"},
        "x2": {"field": "t1"},
        "y": {"field": "s", "type": "quantitative"},
        "color": {"field": "g", "type": "nominal", "legend": null}
      }},
     {"data": {"name": "dLegL"},
      "mark": {"type": "text", "color": "#000", "fontSize": 10, "align": "left", "baseline": "middle"},
      "encoding": {
        "x": {"field": "t", "type": "quantitative"},
        "y": {"field": "s", "type": "quantitative"},
        "text": {"field": "label"}
      }},
     {"data": {"name": "dLegR"},
      "mark": {"type": "text", "color": "#000", "fontSize": 10, "align": "right", "baseline": "middle"},
      "encoding": {
        "x": {"field": "t", "type": "quantitative"},
        "y": {"field": "s", "type": "quantitative"},
        "text": {"field": "label"}
      }},
     {"data": {"name": "dTitle"},
      "mark": {"type": "text", "color": "#000", "fontSize": 15, "align": "center", "baseline": "middle"},
      "encoding": {
        "x": {"field": "t", "type": "quantitative"},
        "y": {"field": "s", "type": "quantitative"},
        "text": {"field": "label"}
      }},
     {"data": {"name": "dLetter"},
      "mark": {"type": "text", "color": "#000", "fontSize": 13, "align": "left", "baseline": "middle"},
      "encoding": {
        "x": {"field": "t", "type": "quantitative"},
        "y": {"field": "s", "type": "quantitative"},
        "text": {"field": "label"}
      }}
    ]}
 ]}
]
}
